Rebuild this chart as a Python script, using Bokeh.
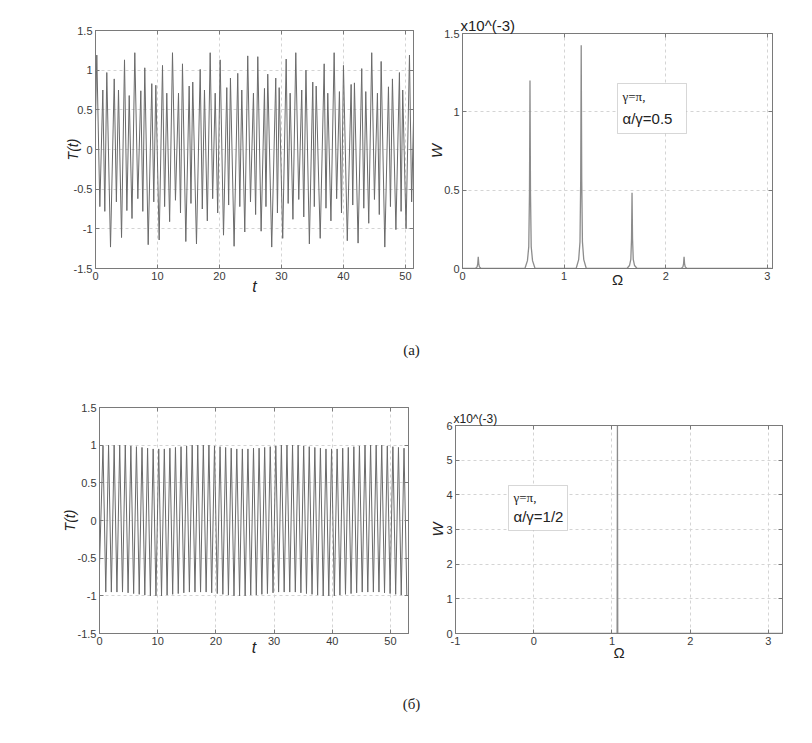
import numpy as np
from bokeh.plotting import figure
from bokeh.models import (Range1d, FixedTicker, LinearAxis, Label, BoxAnnotation,
                          CustomJSTickFormatter, Spacer)
from bokeh.layouts import column, row
from bokeh.embed import file_html
from bokeh.resources import INLINE

# ---------------- data ----------------
# (a) time series: alternating extrema of T(t)
t_a = [0.00, 0.21, 0.70, 1.18, 1.50, 1.82, 2.42, 3.02, 3.37, 3.71, 4.20, 4.68, 5.06, 5.44, 5.89,
       6.34, 6.83, 7.31, 7.63, 7.95, 8.50, 9.08, 9.40, 9.73, 10.27, 10.81, 11.15, 11.50, 11.96,
       12.42, 12.90, 13.39, 13.71, 14.03, 14.57, 15.11, 15.40, 15.69, 16.29, 16.89, 17.23, 17.58,
       18.04, 18.50, 18.90, 19.31, 19.71, 20.11, 20.65, 21.18, 21.48, 21.77, 22.36, 22.95, 23.28,
       23.60, 24.08, 24.56, 25.00, 25.48, 25.83, 26.18, 26.72, 27.26, 27.50, 27.79, 28.43, 29.08,
       29.35, 29.63, 30.20, 30.76, 31.08, 31.40, 31.85, 32.31, 32.79, 33.27, 33.60, 33.95, 34.50,
       35.05, 35.30, 35.60, 36.25, 36.89, 37.18, 37.47, 37.98, 38.50, 38.90, 39.35, 39.68, 40.00,
       40.62, 41.24, 41.50, 41.77, 42.36, 42.95, 43.28, 43.60, 44.08, 44.56, 45.00, 45.48, 45.78,
       46.08, 46.67, 47.26, 47.58, 47.90, 48.46, 49.03, 49.30, 49.56, 50.10, 50.65, 51.00, 51.40]
T_a = [0.35, 1.19, -0.72, 0.75, -0.78, 0.97, -1.23, 0.89, -0.66, 0.75, -1.11, 1.13, -0.77, 0.68, -0.87,
       1.22, -0.62, 0.74, -0.78, 1.03, -1.20, 0.83, -0.66, 0.81, -1.14, 1.06, -0.72, 0.71, -0.91,
       1.22, -0.64, 0.71, -0.80, 1.08, -1.16, 0.80, -0.68, 0.85, -1.19, 1.01, -0.75, 0.75,
       -0.90, 1.22, -0.62, 0.71, -0.80, 1.13, -1.08, 0.78, -0.70, 0.90, -1.22, 0.96, -0.72,
       0.75, -1.04, 1.18, -0.66, 0.71, -0.82, 1.17, -1.03, 0.77, -0.72, 0.95, -1.23, 0.90,
       -0.80, 0.78, -1.12, 1.14, -0.68, 0.71, -0.88, 1.22, -0.63, 0.75, -0.85, 1.00, -1.19,
       0.85, -0.72, 0.80, -1.12, 1.08, -0.74, 0.71, -0.90, 1.22, -0.62, 0.73, -0.80, 1.06,
       -1.15, 0.82, -0.70, 0.84, -1.18, 1.02, -0.74, 0.73, -0.93, 1.22, -0.63, 0.71, -0.82,
       1.11, -1.23, 0.79, -0.72, 0.89, -1.01, 0.97, -0.78, 0.75, -1.00, 1.19, -0.66, 0.71]

# (a) spectrum W(Omega), units of 1e-3
omega_a = [0.0, 0.105, 0.13, 0.143, 0.15, 0.155, 0.16, 0.167, 0.18, 0.205,
           0.614, 0.639, 0.652, 0.659, 0.664, 0.669, 0.676, 0.689, 0.714,
           1.118, 1.143, 1.156, 1.163, 1.168, 1.173, 1.18, 1.193, 1.218,
           1.618, 1.643, 1.656, 1.663, 1.668, 1.673, 1.68, 1.693, 1.718,
           2.13, 2.155, 2.168, 2.175, 2.18, 2.185, 2.192, 2.205, 2.23, 3.04]
W_a = [0.0, 0.0, 0.003, 0.009, 0.03, 0.074, 0.03, 0.009, 0.003, 0.0,
       0.0, 0.05, 0.14, 0.48, 1.20, 0.48, 0.14, 0.05, 0.0,
       0.0, 0.057, 0.17, 0.57, 1.425, 0.57, 0.17, 0.057, 0.0,
       0.0, 0.019, 0.058, 0.19, 0.483, 0.19, 0.058, 0.019, 0.0,
       0.0, 0.003, 0.009, 0.03, 0.074, 0.03, 0.009, 0.003, 0.0, 0.0]

# (б) time series: maxima and minima of each oscillation
period_b = 0.958
first_max_b = 0.60
start_T_b = -0.60
max_b = [0.99, 1.00, 1.00, 1.00, 1.00, 0.99, 0.98, 0.97, 0.96, 0.95, 0.95, 0.95, 0.96, 0.97,
         0.98, 0.99, 1.00, 1.00, 1.00, 1.00, 0.99, 0.98, 0.97, 0.96, 0.95, 0.95, 0.95, 0.96,
         0.96, 0.97, 0.98, 0.99, 1.00, 1.00, 1.00, 1.00, 0.99, 0.98, 0.97, 0.96, 0.95, 0.95,
         0.95, 0.96, 0.97, 0.98, 0.99, 1.00, 1.00, 1.00, 1.00, 0.99, 0.98, 0.97, 0.96]
min_b = [-0.95, -0.95, -0.95, -0.95, -0.96, -0.97, -0.98, -0.99, -1.00, -1.00, -1.00, -0.99,
         -0.98, -0.97, -0.96, -0.95, -0.95, -0.95, -0.95, -0.96, -0.97, -0.98, -0.99, -1.00,
         -1.00, -1.00, -0.99, -0.99, -0.98, -0.97, -0.96, -0.95, -0.95, -0.95, -0.95, -0.96,
         -0.97, -0.98, -0.99, -1.00, -1.00, -1.00, -0.99, -0.98, -0.97, -0.96, -0.95, -0.95,
         -0.95, -0.95, -0.96, -0.97, -0.98, -0.99, -1.00]

# (б) spectrum
omega_b = [0.0, 1.066, 1.070, 1.074, 3.18]
W_b = [0.0, 0.0, 6.0, 0.0, 0.0]

# ticks
ticks_T = [-1.5, -1, -0.5, 0, 0.5, 1, 1.5]
labels_T = ["-1.5", "-1", "-0.5", "0", "0.5", "1", "1.5"]
ticks_t = [0, 10, 20, 30, 40, 50]
ticks_Wa = [0, 0.5, 1, 1.5]
labels_Wa = ["0", "0.5", "1", "1.5"]
ticks_Oa = [0, 1, 2, 3]
ticks_Wb = [0, 1, 2, 3, 4, 5, 6]
ticks_Ob = [-1, 0, 1, 2, 3]

# ---------------- styling helpers ----------------
SANS = "Liberation Sans"
SERIF = "Liberation Serif"
AX = "#7a7a7a"
TXT = "#3a3a3a"


def make_fig(w, h, bl, br, bt, bb, xr, yr, xt, yt, ylab=None, xlab=None):
    p = figure(width=w, height=h, x_range=Range1d(*xr), y_range=Range1d(*yr),
               output_backend="svg", toolbar_location=None, tools="",
               min_border_left=bl, min_border_right=br, min_border_top=bt,
               min_border_bottom=bb)
    p.background_fill_color = "white"
    p.border_fill_color = "white"
    p.outline_line_color = AX
    p.xaxis.ticker = FixedTicker(ticks=xt)
    p.yaxis.ticker = FixedTicker(ticks=yt)
    p.xaxis.major_label_overrides = {float(v): (xlab[i] if xlab else str(v)) for i, v in enumerate(xt)}
    p.yaxis.major_label_overrides = {float(v): (ylab[i] if ylab else str(v)) for i, v in enumerate(yt)}
    for ax in p.axis:
        ax.major_tick_in = 4
        ax.major_tick_out = 0
        ax.minor_tick_in = 0
        ax.minor_tick_out = 0
        ax.axis_line_color = AX
        ax.major_tick_line_color = AX
        ax.major_label_text_font = SANS
        ax.major_label_text_font_size = "11px"
        ax.major_label_text_color = TXT
        ax.major_label_standoff = 3
        ax.axis_label_text_font = SANS
        ax.axis_label_text_color = "#222222"
    for loc, tk in (("above", xt), ("right", yt)):
        mir = LinearAxis(ticker=FixedTicker(ticks=tk),
                         formatter=CustomJSTickFormatter(code="return ''"),
                         major_tick_in=4, major_tick_out=0, minor_tick_in=0, minor_tick_out=0,
                         axis_line_color=AX, major_tick_line_color=AX,
                         major_label_text_font_size="1px", major_label_standoff=0)
        p.add_layout(mir, loc)
    p.xgrid.ticker = FixedTicker(ticks=xt)
    p.ygrid.ticker = FixedTicker(ticks=yt)
    p.grid.grid_line_color = "#d4d4d4"
    p.grid.grid_line_dash = "3 3"
    return p


def axis_labels(p, ytext, ysize, ystyle, ystand, xtext, xsize, xstyle, xstand):
    ya = p.left[0]
    ya.axis_label = ytext
    ya.axis_label_text_font_size = ysize
    ya.axis_label_text_font_style = ystyle
    ya.axis_label_standoff = ystand
    xa = p.below[0]
    xa.axis_label = xtext
    xa.axis_label_text_font_size = xsize
    xa.axis_label_text_font_style = xstyle
    xa.axis_label_standoff = xstand


def set_title(p, text, size):
    p.title.text = text
    p.title.align = "left"
    p.title.text_font = SANS
    p.title.text_font_size = size
    p.title.text_font_style = "normal"
    p.title.text_color = "#222222"
    p.title.standoff = 0
    p.title.offset = -2


def lab(p, x, y, text, size="14px", align="left", font=SANS, color="#222222"):
    p.add_layout(Label(x=x, y=y, x_units="screen", y_units="screen", text=text,
                       text_font=font, text_font_size=size, text_align=align,
                       text_baseline="middle", text_color=color))


def legend_box(p, left, right, bottom, top):
    p.add_layout(BoxAnnotation(left=left, right=right, bottom=bottom, top=top,
                               left_units="screen", right_units="screen",
                               bottom_units="screen", top_units="screen",
                               fill_color="white", fill_alpha=1.0,
                               line_color=AX, line_width=1))


# ---------------- (a) left: T(t) ----------------
p1 = make_fig(420, 310, 95, 7, 30, 42, (0, 51.3), (-1.5, 1.5), ticks_t, ticks_T, ylab=labels_T)
p1.line(t_a, T_a, line_color="#6a6a6a", line_width=1)
axis_labels(p1, "T(t)", "14px", "italic", -10, "t", "16px", "italic", -5)

# ---------------- (a) right: spectrum ----------------
p2 = make_fig(384, 307, 42, 32, 30, 42, (0, 3.05), (0, 1.5), ticks_Oa, ticks_Wa, ylab=labels_Wa)
p2.line(omega_a, W_a, line_color="#8c8c8c", line_width=1.3)
axis_labels(p2, "W", "15px", "italic", -4, "Ω", "15px", "normal", -12)
set_title(p2, "x10^(-3)", "15px")
legend_box(p2, 155, 224, 135, 185)
lab(p2, 160, 172, "γ=π,", size="13px", font=SERIF)
lab(p2, 160, 150, "α/γ=0.5", size="15px")

# ---------------- (б) left: T(t) ----------------
t_b = [0.0]
T_b = [start_T_b]
for k in range(len(max_b)):
    tm = first_max_b + k * period_b
    t_b += [tm, tm + period_b / 2]
    T_b += [max_b[k], min_b[k]]

p3 = make_fig(420, 290, 99, 12, 17, 47, (0, 53.1), (-1.5, 1.5), ticks_t, ticks_T, ylab=labels_T)
p3.line(t_b, T_b, line_color="#6a6a6a", line_width=1)
axis_labels(p3, "T(t)", "14px", "italic", -3, "t", "16px", "italic", -9)

# ---------------- (б) right: spectrum ----------------
p4 = make_fig(384, 272, 35, 22, 17, 47, (-1, 3.18), (0, 6), ticks_Ob, ticks_Wb)
p4.line(omega_b, W_b, line_color="#8c8c8c", line_width=1.3)
axis_labels(p4, "W", "15px", "italic", -3, "Ω", "15px", "normal", -4)
set_title(p4, "x10^(-3)", "12px")
legend_box(p4, 53, 112, 103, 148)
lab(p4, 58, 136, "γ=π,", size="13px", font=SERIF)
lab(p4, 58, 117, "α/γ=1/2", size="15px")


# ---------------- captions ----------------
def caption(h, y, text):
    c = figure(width=804, height=h, x_range=Range1d(0, 1), y_range=Range1d(0, 1),
               output_backend="svg", toolbar_location=None, tools="",
               x_axis_location=None, y_axis_location=None, min_border=0)
    c.grid.visible = False
    c.outline_line_color = None
    lab(c, 411, y, text, size="15px", align="center", font=SERIF)
    return c


cap1 = caption(80, 41, "(а)")
cap2 = caption(55, 32, "(б)")

top_row = row(p1, column(Spacer(width=384, height=3), p2))
bottom_row = row(p3, column(Spacer(width=384, height=18), p4))
layout = column(top_row, cap1, bottom_row, cap2)
open("out.html", "w").write(file_html(layout, INLINE))
